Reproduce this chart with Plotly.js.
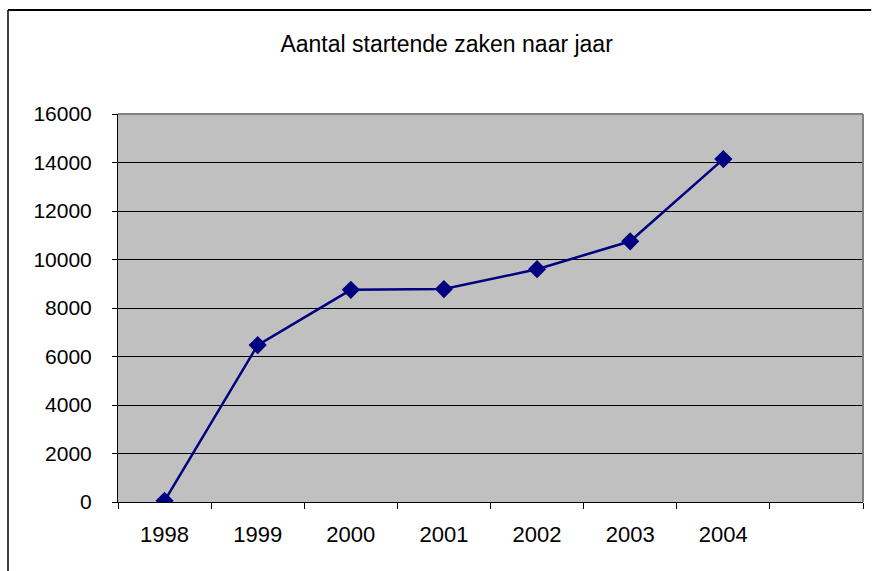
<!DOCTYPE html>
<html>
<head>
<meta charset="utf-8">
<script src="https://cdn.plot.ly/plotly-3.0.1.min.js"></script>
<style>html,body{margin:0;padding:0;background:#fff;}#chart{width:874px;height:571px;}</style>
</head>
<body>
<div id="chart"></div>
<script>
const years = ['1998', '1999', '2000', '2001', '2002', '2003', '2004'];
const slots = ['1998', '1999', '2000', '2001', '2002', '2003', '2004', ' '];
const counts = [50, 6470, 8750, 8780, 9600, 10750, 14140];
const yTicks = [0, 2000, 4000, 6000, 8000, 10000, 12000, 14000, 16000];
const chartTitle = 'Aantal startende zaken naar jaar';

const trace = {
  type: 'scatter',
  mode: 'lines+markers',
  x: years,
  y: counts,
  line: {color: '#000080', width: 2.5},
  marker: {symbol: 'diamond', size: 14, color: '#000080'},
  showlegend: false,
  hoverinfo: 'x+y'
};

const layout = {
  width: 874,
  height: 571,
  margin: {l: 118, r: 11, t: 114, b: 69},
  paper_bgcolor: '#ffffff',
  plot_bgcolor: '#c0c0c0',
  font: {family: 'Liberation Sans, Arial, sans-serif', color: '#000'},
  title: {
    text: chartTitle,
    font: {size: 23, color: '#000', family: 'Liberation Sans, Arial, sans-serif'},
    xref: 'container', x: 0.511, xanchor: 'center',
    yref: 'container', y: 1 - 44 / 571, yanchor: 'middle'
  },
  xaxis: {
    type: 'category',
    categoryorder: 'array',
    categoryarray: slots,
    range: [-0.5, 7.5],
    tickson: 'boundaries',
    ticks: 'outside',
    ticklen: 6,
    tickcolor: '#000',
    tickwidth: 1,
    showgrid: false,
    showline: true,
    linecolor: '#000',
    linewidth: 1,
    zeroline: false,
    tickfont: {size: 22, color: '#000'},
    ticklabelstandoff: 13,
    fixedrange: true
  },
  yaxis: {
    range: [0, 16000],
    tickmode: 'array',
    tickvals: yTicks,
    ticktext: yTicks.map(String),
    ticks: 'outside',
    ticklen: 5,
    tickcolor: '#000',
    tickwidth: 1,
    showgrid: true,
    gridcolor: '#000',
    gridwidth: 1,
    showline: true,
    linecolor: '#000',
    linewidth: 1,
    zeroline: false,
    tickfont: {size: 21, color: '#000'},
    ticklabelstandoff: 16,
    fixedrange: true
  },
  shapes: [
    {type: 'line', xref: 'paper', yref: 'paper', x0: 0, x1: 1, y0: 1, y1: 1,
     line: {color: '#808080', width: 2}},
    {type: 'line', xref: 'paper', yref: 'paper', x0: 1, x1: 1, y0: 0, y1: 1,
     line: {color: '#808080', width: 2}},
    {type: 'line', xref: 'paper', yref: 'paper', x0: -110 / 745, x1: 1.011, y0: 1 + 104 / 388, y1: 1 + 104 / 388,
     line: {color: '#000', width: 2}},
    {type: 'line', xref: 'paper', yref: 'paper', x0: -110 / 745, x1: -110 / 745, y0: 1 + 104 / 388, y1: -0.2,
     line: {color: '#000', width: 1.5}}
  ]
};

Plotly.newPlot('chart', [trace], layout, {displayModeBar: false, staticPlot: true});
</script>
</body>
</html>
